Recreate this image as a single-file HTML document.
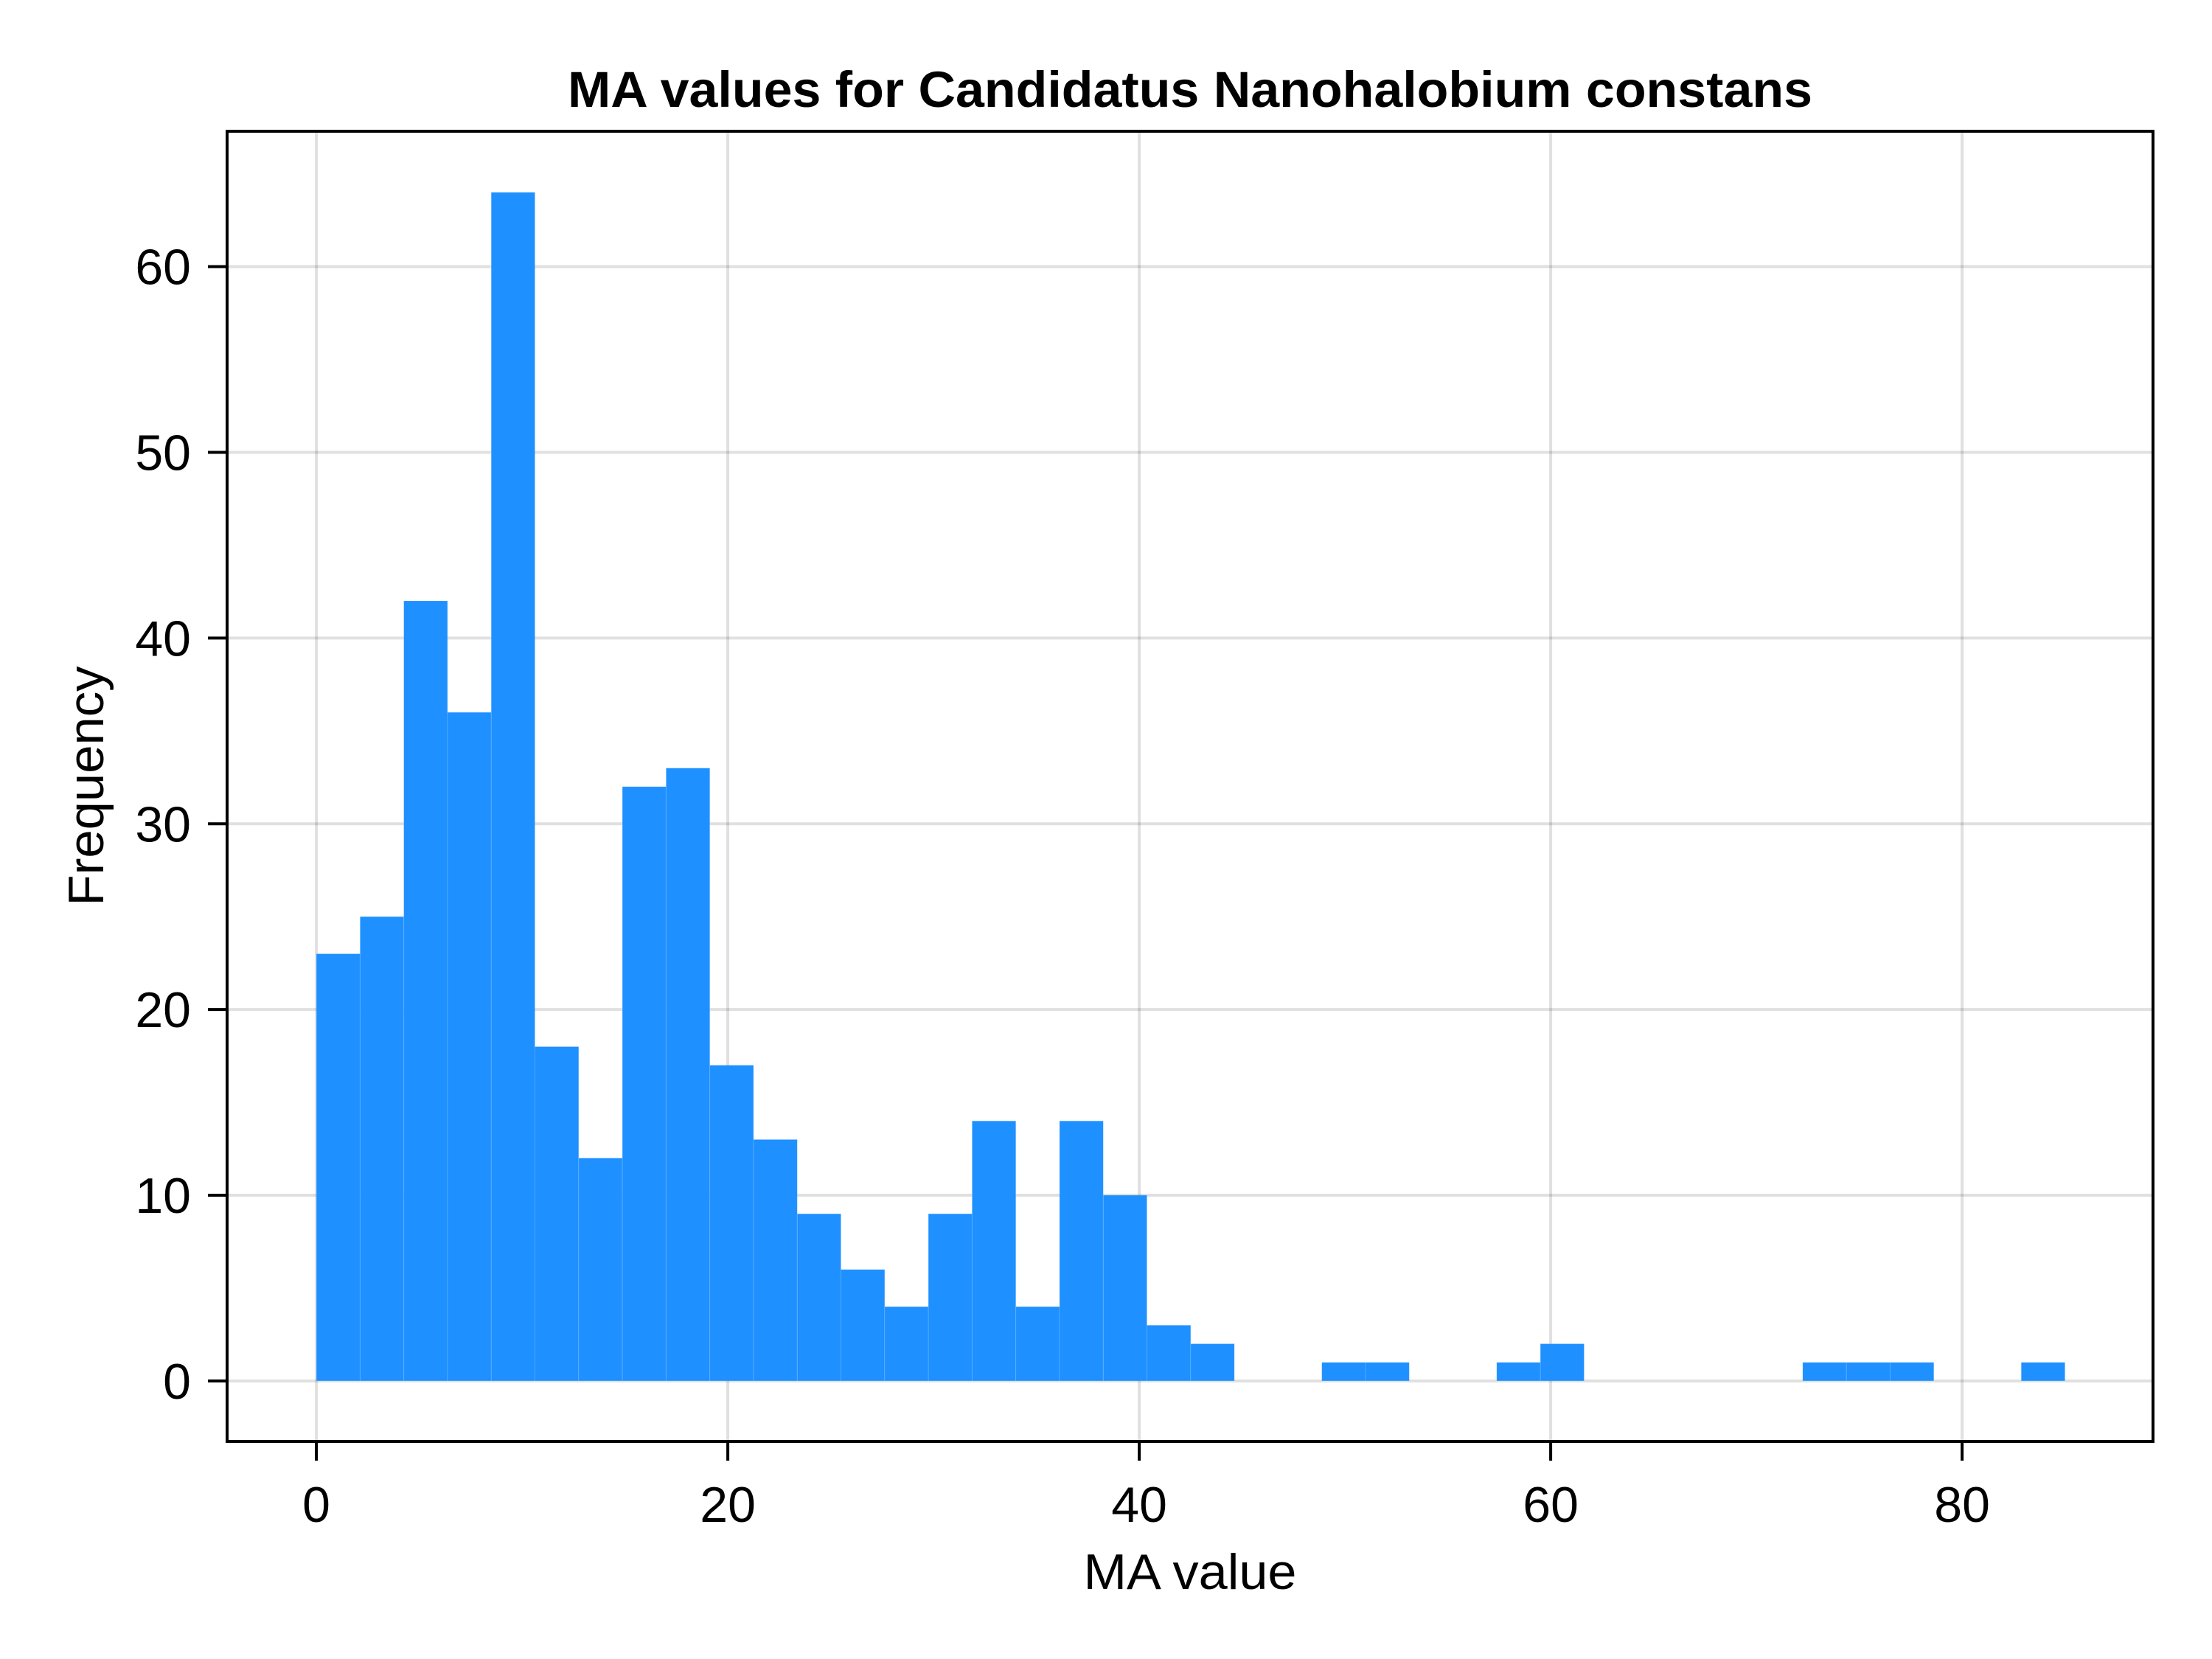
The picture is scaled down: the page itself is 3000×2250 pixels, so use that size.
<!DOCTYPE html>
<html><head><meta charset="utf-8"><style>
html,body{margin:0;padding:0;background:#fff;}
svg{display:block;font-family:"Liberation Sans",sans-serif;}
</style></head><body>
<svg id="chart" width="3000" height="2250" viewBox="0 0 3000 2250" xmlns="http://www.w3.org/2000/svg">
<rect width="3000" height="2250" fill="#fff"/>
<g id="grid"></g>
<g id="bars"></g>
<rect x="308" y="178" width="2612" height="1777" fill="none" stroke="#000" stroke-width="4"/>
<g id="ticks"></g>
<text x="1614" y="145" text-anchor="middle" font-size="69" font-weight="bold" textLength="1688" lengthAdjust="spacingAndGlyphs">MA values for Candidatus Nanohalobium constans</text>
<text x="1614" y="2155" text-anchor="middle" font-size="68" textLength="289" lengthAdjust="spacingAndGlyphs">MA value</text>
<text x="140" y="1066" text-anchor="middle" font-size="68" transform="rotate(-90 140 1066)" textLength="325" lengthAdjust="spacingAndGlyphs">Frequency</text>
</svg>
<script>
const binStart = 0;
const binWidth = 2.125;
const counts = [23,25,42,36,64,18,12,32,33,17,13,9,6,4,9,14,4,14,10,3,2,0,0,1,1,0,0,1,2,0,0,0,0,0,1,1,1,0,0,1];
const xTicks = [0,20,40,60,80];
const yTicks = [0,10,20,30,40,50,60];
const xTickLabels = ["0","20","40","60","80"];
const yTickLabels = ["0","10","20","30","40","50","60"];

const L=308,R=2920,T=178,B=1955;
const xMin=-4.34,xMax=89.28,yMin=-3.26,yMax=67.29;
function xs(v){return L+(v-xMin)/(xMax-xMin)*(R-L);}
function ys(v){return B-(v-yMin)/(yMax-yMin)*(B-T);}
const NS="http://www.w3.org/2000/svg";
function mk(tag,attrs,parent){const e=document.createElementNS(NS,tag);for(const k in attrs)e.setAttribute(k,attrs[k]);parent.appendChild(e);return e;}
const grid=document.getElementById('grid'),bars=document.getElementById('bars'),ticks=document.getElementById('ticks');
xTicks.forEach((t,i)=>{
  const g=mk('line',{x1:xs(t),x2:xs(t),y1:T,y2:B,stroke:'rgba(0,0,0,0.12)','stroke-width':4},grid);
  
  
  const tk=mk('line',{x1:xs(t),x2:xs(t),y1:B,y2:B+26,stroke:'#000','stroke-width':4},ticks);
  
  
  const tx=mk('text',{x:xs(t),y:2064,'text-anchor':'middle','font-size':68},ticks);
  tx.textContent=xTickLabels[i];
  
  
});
yTicks.forEach((t,i)=>{
  const g=mk('line',{x1:L,x2:R,y1:ys(t),y2:ys(t),stroke:'rgba(0,0,0,0.12)','stroke-width':4},grid);
  
  
  const tk=mk('line',{x1:L-26,x2:L,y1:ys(t),y2:ys(t),stroke:'#000','stroke-width':4},ticks);
  
  
  const tx=mk('text',{x:259,y:ys(t)+24,'text-anchor':'end','font-size':68},ticks);
  tx.textContent=yTickLabels[i];
  
  
});
counts.forEach((c,i)=>{
  if(c<=0)return;
  const x0=xs(binStart+i*binWidth),x1=xs(binStart+(i+1)*binWidth);
  const r=mk('rect',{x:x0,y:ys(c),width:x1-x0,height:ys(0)-ys(c),fill:'#1e90ff',stroke:'rgba(255,255,255,0.15)','stroke-width':1},bars);
  
  
});
</script>
</body></html>
